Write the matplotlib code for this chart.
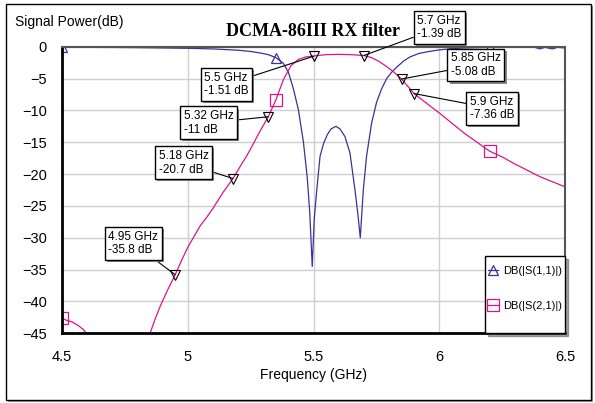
import matplotlib
matplotlib.use("Agg")
import matplotlib.pyplot as plt
import matplotlib.patheffects as pe
from matplotlib.patches import Rectangle
import numpy as np

plt.rcParams["font.family"] = ["Liberation Sans", "DejaVu Sans"]

# S11 (return loss), GHz / dB
s11_f = [4.5, 4.53, 4.57, 4.6, 4.7, 4.8, 4.9, 5.0, 5.1, 5.15, 5.2, 5.25, 5.29, 5.32, 5.35,
         5.38, 5.4, 5.42, 5.44, 5.46, 5.475, 5.485, 5.495, 5.503, 5.513, 5.526, 5.54, 5.555,
         5.57, 5.589, 5.605, 5.625, 5.645, 5.665, 5.677, 5.686, 5.698, 5.711, 5.731, 5.751,
         5.771, 5.791, 5.811, 5.831, 5.86, 5.884, 5.92, 5.96, 6.0, 6.05, 6.1, 6.2, 6.3, 6.38,
         6.4, 6.42, 6.45, 6.47, 6.5]
s11_db = [0.0, -0.1, 0.05, -0.1, -0.12, -0.15, -0.2, -0.25, -0.35, -0.45, -0.55, -0.75, -1.0,
          -1.25, -1.7, -2.6, -4.0, -6.6, -9.9, -15.0, -20.5, -26.0, -34.5, -27.0, -22.5, -17.2,
          -15.2, -13.8, -12.9, -12.5, -12.9, -14.1, -16.7, -22.5, -26.5, -30.0, -22.5, -17.2,
          -12.0, -8.7, -6.6, -5.0, -4.0, -3.2, -2.2, -1.6, -1.05, -0.75, -0.5, -0.3, -0.2,
          -0.1, -0.05, -0.1, -0.35, -0.1, -0.35, -0.1, -0.2]

# S21 (insertion loss), GHz / dB
s21_f = [4.5, 4.52, 4.54, 4.565, 4.585, 4.6, 4.62, 4.7, 4.84, 4.85, 4.87, 4.89, 4.92, 4.95,
         4.975, 5.0, 5.025, 5.05, 5.075, 5.1, 5.14, 5.18, 5.21, 5.235, 5.26, 5.28, 5.3, 5.32,
         5.35, 5.38, 5.41, 5.44, 5.47, 5.5, 5.55, 5.6, 5.65, 5.7, 5.73, 5.76, 5.79, 5.82, 5.85,
         5.9, 5.95, 6.0, 6.05, 6.1, 6.15, 6.2, 6.25, 6.3, 6.35, 6.4, 6.45, 6.5]
s21_db = [-42.6, -43.0, -43.2, -43.8, -44.4, -45.2, -46.5, np.nan, -46.3, -45.0, -42.8, -40.8,
          -38.2, -35.8, -33.6, -31.5, -29.8, -28.1, -26.8, -25.4, -22.9, -20.7, -18.7, -17.1,
          -15.3, -13.8, -12.4, -11.0, -8.4, -5.2, -3.0, -2.0, -1.6, -1.45, -1.25, -1.2, -1.25,
          -1.39, -1.7, -2.3, -3.1, -4.0, -5.08, -7.36, -8.9, -10.4, -12.0, -13.6, -15.0, -16.4,
          -17.3, -18.4, -19.4, -20.4, -21.2, -22.0]

marker_f = [4.5, 5.35, 6.2]

# marked points on S21
ann_f = [4.95, 5.18, 5.32, 5.5, 5.7, 5.85, 5.9]
ann_db = [-35.8, -20.7, -11, -1.51, -1.39, -5.08, -7.36]
ann_tx = [4.784, 4.983, 5.083, 5.154, 6.001, 6.146, 6.21]
ann_ty = [-30.9, -18.2, -11.96, -5.93, 3.0, -2.87, -9.69]

blue = "#3c3296"
pink = "#dc148c"

fig = plt.figure(figsize=(5.95, 4.03), dpi=100)
ax = fig.add_axes([62 / 595, 1 - 333.3 / 403, 503 / 595, 286.6 / 403])

ax.plot(s11_f, s11_db, color=blue, lw=0.9, marker="^", ms=7, mfc="none", mec=blue, mew=0.9,
        markevery=[s11_f.index(f) for f in marker_f], label="DB(|S(1,1)|)")
ax.plot(s21_f, s21_db, color=pink, lw=0.9, marker="s", ms=8, mfc="none", mec=pink, mew=0.9,
        markevery=[s21_f.index(f) for f in marker_f], label="DB(|S(2,1)|)")
ax.plot(ann_f, ann_db, ls="none", marker="v", ms=7, mfc="none", mec="black", mew=0.8)

for f, d, tx, ty in zip(ann_f, ann_db, ann_tx, ann_ty):
    a = ax.annotate(f"{f:g} GHz\n{d:g} dB", xy=(f, d), xytext=(tx, ty), fontsize=8.5,
                    ha="center", va="center", multialignment="left", annotation_clip=False,
                    bbox=dict(boxstyle="square,pad=0.3", fc="white", ec="black", lw=1),
                    arrowprops=dict(arrowstyle="-", color="black", lw=0.8, shrinkA=0, shrinkB=0))
    a.get_bbox_patch().set_path_effects(
        [pe.withSimplePatchShadow(offset=(1.5, -1.5), shadow_rgbFace="#888888", alpha=1)])

ax.set_xlim(4.5, 6.5)
ax.set_ylim(-45, 0)
ax.set_xticks([4.5, 5, 5.5, 6, 6.5])
ax.set_xticklabels(["4.5", "5", "5.5", "6", "6.5"])
ax.set_yticks(range(-45, 1, 5))
ax.tick_params(length=0, labelsize=10.5)
ax.tick_params(axis="y", pad=11)
ax.tick_params(axis="x", pad=12)
ax.grid(color="#cfcfcf", lw=1)
ax.set_axisbelow(True)
for s in ["left", "bottom"]:
    ax.spines[s].set_linewidth(2)
    ax.spines[s].set_color("black")
for s in ["top", "right"]:
    ax.spines[s].set_linewidth(1.5)
    ax.spines[s].set_color("#555555")

leg = ax.legend(loc="lower right", bbox_to_anchor=(1, 0), borderaxespad=0, fontsize=8,
                handlelength=0.9, handleheight=4.5, handletextpad=0.4, labelspacing=0,
                borderpad=0.3, fancybox=False, shadow=True, framealpha=1)
leg.get_frame().set_edgecolor("black")
leg.get_frame().set_linewidth(1)
# lift labels level with the handle markers
for t in leg.get_texts():
    t.set_y(6)

fig.text(313 / 595, 1 - 32 / 403, "DCMA-86III RX filter", ha="center", va="center",
         fontsize=13, fontweight="bold", family="Liberation Serif")
fig.text(15 / 595, 1 - 22 / 403, "Signal Power(dB)", ha="left", va="center", fontsize=10)
fig.text(313 / 595, 1 - 375 / 403, "Frequency (GHz)", ha="center", va="center", fontsize=10)

# outer frame with shadow
fig.patches.append(Rectangle((7.5 / 595, 1 - 402 / 403), 585 / 595, 396 / 403,
                             transform=fig.transFigure, fc="#999999", ec="none", zorder=-2))
fig.patches.append(Rectangle((5.5 / 595, 1 - 400 / 403), 585 / 595, 396 / 403,
                             transform=fig.transFigure, fc="white", ec="black", lw=1, zorder=-1))

fig.savefig("out.png", dpi=100)
